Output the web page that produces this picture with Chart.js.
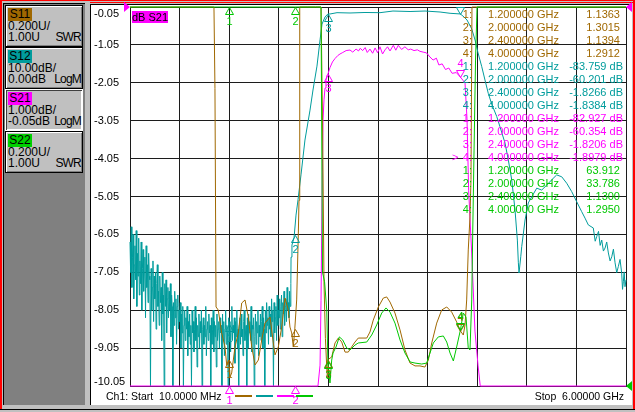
<!DOCTYPE html>
<html>
<head>
<meta charset="utf-8">
<script src="https://cdn.jsdelivr.net/npm/chart.js@4.4.0/dist/chart.umd.min.js"></script>
<style>
  html, body { margin: 0; padding: 0; }
  body {
    width: 635px; height: 412px; position: relative; overflow: hidden;
    background: #c0c0c0; font-family: "Liberation Sans", Arial, sans-serif;
  }
  .abs { position: absolute; }
  #left-panel { left: 3px; top: 3px; width: 82px; height: 402px; background: #808080;
    border-top: 1px solid #000; border-left: 1px solid #000; box-sizing: border-box; }
  #plot-panel { left: 90px; top: 4px; width: 542px; height: 401px; background: #fff;
    border-top: 1px solid #000; border-left: 1px solid #000; box-sizing: border-box; }
  .btn { position: absolute; left: 5px; width: 78px; height: 42px; box-sizing: border-box;
    background: #c0c0c0; border: 1px solid #000; box-shadow: inset 1px 1px #fff, inset -1px -1px #808080;
    font-size: 12px; color: #000; }
  .btn.sel { border: 1px solid #fff; box-shadow: inset 1px 1px #404040, inset -1px -1px #fff; }
  .tag { position: absolute; left: 2px; top: 2px; width: 24px; height: 13px; line-height: 13px; text-align: center; }
  .l2, .l3 { position: absolute; left: 2px; right: 1px; height: 11px; line-height: 11px; }
  .l2 { top: 15px; }
  .l3 { top: 26px; }
  .l3 span:last-child { position: absolute; right: 0; letter-spacing: -0.8px; }
  #overlay { left: 0; top: 0; width: 635px; height: 412px; pointer-events: none; font-size: 11px; }
  #overlay span { position: absolute; white-space: pre; line-height: 13px; }
  canvas { position: absolute; left: 0; top: 0; }
</style>
</head>
<body>
<div class="abs" style="left:0;top:0;width:635px;height:1px;background:#f00"></div>
<div class="abs" style="left:90px;top:2px;width:543px;height:1px;background:#f00"></div>
<div class="abs" style="left:0;top:0;width:2px;height:409px;background:#f00"></div>
<div class="abs" style="left:633px;top:0;width:2px;height:409px;background:#f00"></div>
<div class="abs" style="left:0;top:409px;width:635px;height:1px;background:#000"></div>

<div id="left-panel" class="abs"></div>
<div id="plot-panel" class="abs"></div>

<div class="btn" style="top:5px"><span class="tag" style="background:#a06800">S11</span>
  <div class="l2">0.200U/</div><div class="l3"><span>1.00U</span><span>SWR</span></div></div>
<div class="btn" style="top:47px"><span class="tag" style="background:#009c9c">S12</span>
  <div class="l2">10.00dB/</div><div class="l3"><span>0.00dB</span><span>LogM</span></div></div>
<div class="btn sel" style="top:89px"><span class="tag" style="background:#ff00ff">S21</span>
  <div class="l2">1.000dB/</div><div class="l3"><span>-0.05dB</span><span>LogM</span></div></div>
<div class="btn" style="top:131px"><span class="tag" style="background:#00d000">S22</span>
  <div class="l2">0.200U/</div><div class="l3"><span>1.00U</span><span>SWR</span></div></div>

<canvas id="vna" width="635" height="412"></canvas>
<div id="overlay" class="abs"></div>

<script>
// --- sweep and scales ---
const sweepStart = 0.01;   // GHz
const sweepStop = 6.0;     // GHz
const yTickLabels = ['-0.05', '-1.05', '-2.05', '-3.05', '-4.05', '-5.05',
                     '-6.05', '-7.05', '-8.05', '-9.05', '-10.05'];

// --- S11 (SWR) ---
const s11Freq = [0.01, 0.30, 0.60, 0.90, 1.010, 1.024, 1.036, 1.049, 1.076, 1.117, 1.157, 1.178, 1.200,
  1.218, 1.238, 1.278, 1.318, 1.359, 1.399, 1.439, 1.480, 1.520, 1.560, 1.601, 1.640, 1.701, 1.741,
  1.761, 1.801, 1.842, 1.882, 1.922, 1.942, 1.963, 1.982, 2.000, 2.023, 2.043, 2.051, 2.060, 2.150,
  2.250, 2.317, 2.335, 2.353, 2.370, 2.386, 2.393, 2.400, 2.446, 2.486, 2.526, 2.567, 2.607, 2.646,
  2.687, 2.727, 2.767, 2.869, 2.908, 2.948, 3.009, 3.069, 3.110, 3.150, 3.210, 3.271, 3.331, 3.392,
  3.452, 3.512, 3.572, 3.613, 3.654, 3.714, 3.774, 3.835, 3.895, 3.955, 4.000, 4.035, 4.056, 4.076,
  4.095, 4.116, 4.128, 4.140, 4.5, 5.0, 5.5, 6.0];
const s11Swr = [9.5, 14, 11, 6.5, 4.0, 3.3, 2.57, 1.417, 1.401, 1.280, 1.206, 1.111, 1.1363,
  1.047, 1.069, 1.206, 1.280, 1.438, 1.454, 1.364, 1.206, 1.111, 1.137, 1.243, 1.332, 1.364, 1.227,
  1.164, 1.206, 1.311, 1.464, 1.401, 1.311, 1.280, 1.206, 1.3015, 1.454, 1.807, 1.98, 3.4, 5.2,
  4.1, 3.3, 2.4, 1.544, 1.25, 1.10, 1.05, 1.1394, 1.153, 1.227, 1.253, 1.232, 1.179, 1.179,
  1.206, 1.232, 1.253, 1.253, 1.285, 1.348, 1.417, 1.464, 1.470, 1.443, 1.385, 1.296, 1.190, 1.121,
  1.106, 1.106, 1.100, 1.137, 1.227, 1.332, 1.401, 1.417, 1.390, 1.338, 1.2912, 1.269, 1.322, 1.454,
  1.718, 1.892, 2.09, 3.4, 6.5, 8.0, 7.0, 6.0];

// --- S12 (dB): noisy floor on the sweep grid, then the skirt and passband ---
const s12NoiseStart = 0.01;
const s12NoiseStep = 0.0075;
const s12Noise = [
  -62, -70, -58, -74, -66, -60, -77, -68, -63, -72, -59, -79, -65, -71, -61, -76,
  -67, -73, -62, -80, -69, -64, -75, -70, -66, -82, -63, -74, -68, -78, -65, -71,
  -72, -100, -69, -80, -74, -67, -83, -71, -77, -70, -85, -73, -68, -79, -75, -84,
  -71, -78, -74, -88, -70, -81, -76, -100, -73, -79, -72, -86, -77, -74, -82, -75,
  -80, -73, -87, -76, -79, -100, -78, -84, -75, -82, -77, -89, -79, -76, -85, -80,
  -83, -78, -90, -81, -86, -79, -100, -84, -80, -88, -82, -85, -79, -92, -83, -87,
  -81, -89, -84, -100, -80, -86, -83, -91, -85, -79, -88, -82, -95, -84, -87, -81,
  -90, -83, -86, -80, -100, -85, -82, -89, -84, -87, -79, -92, -85, -83, -88, -81,
  -86, -84, -100, -82, -89, -85, -80, -91, -83, -87, -84, -95, -81, -88, -85, -83,
  -90, -82, -86, -84, -100, -81, -88, -83, -92, -85, -80, -89, -84, -86, -100, -82,
  -87, -83, -91, -85, -79, -88, -84, -86, -82, -94, -83, -87, -80, -90, -85, -100,
  -84, -82, -89, -81, -87, -85, -92, -83, -80, -88, -86, -84, -100, -82, -90, -81,
  -86, -83, -88, -79, -91, -84, -85, -82, -100, -87, -81, -89, -83, -86, -80, -92,
  -84, -87, -81, -88, -83, -79, -90, -82, -85, -100, -80, -86, -78, -84, -82, -89,
  -79, -85, -81, -87, -77, -83, -80, -100, -78, -86, -82, -79, -88, -76, -84, -80,
  -82, -77, -85, -79, -76, -87, -78, -81, -75, -84, -79, -77, -83, -74, -80, -78,
  -82, -75, -79, -73];
const s12Freq = [1.955, 1.966, 1.991, 2.015, 2.039, 2.075, 2.123, 2.184, 2.220, 2.268, 2.305, 2.329, 2.365,
  2.400, 2.425, 2.510, 2.667, 2.848, 3.029, 3.186, 3.392, 3.573, 3.754, 3.875, 4.000, 4.044, 4.080, 4.137,
  4.177, 4.213, 4.258, 4.297, 4.337, 4.378, 4.439, 4.478, 4.539, 4.579, 4.620, 4.660, 4.688, 4.700, 4.708,
  4.729, 4.741, 4.781, 4.820, 4.861, 4.922, 4.982, 5.042, 5.103, 5.163, 5.224, 5.284, 5.344, 5.405, 5.465,
  5.505, 5.545, 5.605, 5.628, 5.646, 5.668, 5.688, 5.707, 5.727, 5.747, 5.767, 5.787, 5.808, 5.828, 5.848,
  5.868, 5.888, 5.907, 5.928, 5.948, 5.958, 5.968, 5.978, 5.988, 6.000];
const s12Db = [-66.0, -62.8, -60.9, -54.9, -50.9, -44.3, -35.1, -27.2, -21.9, -15.6, -8.7, -4.5, -2.64,
  -1.8266, -1.85, -1.50, -1.58, -1.45, -1.50, -1.06, -1.19, -1.06, -1.32, -1.66, -1.8384, -2.64, -3.43, -5.8,
  -8.7, -12.1, -15.75, -19.26, -22.8, -25.6, -28.9, -31.6, -35.9, -40.4, -45.6, -53.6, -61.5, -67.5, -70.2,
  -65.9, -63.2, -56.2, -51.7, -50.1, -47.8, -48.3, -47.0, -45.6, -44.3, -44.8, -46.5, -48.7, -51.4, -54.0,
  -55.7, -57.5, -58.3, -61.8, -60.6, -59.2, -62.9, -61.5, -64.4, -63.6, -62.0, -64.9, -67.0, -65.9, -63.9,
  -67.5, -70.1, -68.5, -66.6, -70.2, -74.5, -72.5, -69.9, -73.8, -72.0];

// --- S21 (dB) ---
const s21Freq = [0.01, 0.4, 0.8, 1.2, 1.6, 2.0, 2.2, 2.28, 2.305, 2.317, 2.329, 2.341, 2.353, 2.365, 2.377,
  2.389, 2.400, 2.425, 2.455, 2.486, 2.52, 2.546, 2.58, 2.62, 2.667, 2.70, 2.74, 2.77, 2.79, 2.82, 2.85,
  2.875, 2.908, 2.94, 2.97, 3.00, 3.029, 3.06, 3.09, 3.12, 3.15, 3.19, 3.22, 3.25, 3.29, 3.33, 3.37, 3.40,
  3.44, 3.48, 3.512, 3.55, 3.59, 3.633, 3.67, 3.71, 3.74, 3.78, 3.82, 3.86, 3.90, 3.95, 4.00, 4.03, 4.056,
  4.08, 4.10, 4.14, 4.176, 4.213, 4.24, 4.5, 5.0, 6.0];
const s21Db = [-62, -80, -88, -82.927, -72, -60.354, -38, -16, -9.5, -7.8, -5.1, -3.03, -2.5, -2.19, -1.98,
  -1.85, -1.8206, -1.65, -1.50, -1.41, -1.33, -1.29, -1.25, -1.20, -1.185, -1.24, -1.16, -1.21, -1.14, -1.20, -1.12,
  -1.25, -1.16, -1.27, -1.13, -1.26, -1.10, -1.29, -1.18, -1.10, -1.21, -1.06, -1.19, -1.06, -1.17, -1.10, -1.18, -1.16,
  -1.20, -1.18, -1.22, -1.24, -1.26, -1.37, -1.45, -1.40, -1.58, -1.55, -1.70, -1.66, -1.80, -1.78, -1.8979, -1.98, -2.06,
  -3.0, -4.9, -6.7, -8.6, -9.5, -12, -30, -42, -50];

// --- S22 (SWR) ---
const s22Freq = [0.01, 0.5, 1.2, 2.0, 2.25, 2.317, 2.323, 2.335, 2.360, 2.386, 2.400, 2.425, 2.446, 2.462,
  2.498, 2.538, 2.579, 2.627, 2.667, 2.727, 2.767, 2.869, 2.929, 2.989, 3.050, 3.102, 3.150, 3.210, 3.271,
  3.331, 3.392, 3.452, 3.533, 3.593, 3.633, 3.673, 3.733, 3.794, 3.835, 3.875, 3.915, 3.955, 4.000, 4.035,
  4.068, 4.095, 4.116, 4.137, 4.149, 4.165, 4.183, 4.201, 4.6, 5.2, 6.0];
const s22Swr = [30, 55, 63.912, 33.786, 9, 4.2, 3.3, 1.6, 1.55, 1.40, 1.13, 1.016, 1.137, 1.174,
  1.206, 1.259, 1.243, 1.201, 1.190, 1.216, 1.227, 1.232, 1.269, 1.322, 1.385, 1.412, 1.390, 1.332, 1.243,
  1.174, 1.127, 1.121, 1.116, 1.121, 1.174, 1.227, 1.259, 1.264, 1.232, 1.174, 1.132, 1.206, 1.295, 1.385,
  1.364, 1.201, 1.190, 1.454, 1.807, 2.245, 2.720, 3.5, 12, 20, 15];

// --- markers ---
const markerFreqs = [1.2, 2.0, 2.4, 4.0];
const s11Markers = [1.1363, 1.3015, 1.1394, 1.2912];
const s12Markers = [-83.759, -60.201, -1.8266, -1.8384];
const s21Markers = [-82.927, -60.354, -1.8206, -1.8979];
const s22Markers = [63.912, 33.786, 1.1300, 1.2950];
const activeMarker = 3;

const COLORS = { s11: '#a06800', s12: '#009c9c', s21: '#ff00ff', s22: '#00c800' };
const GRID = '#1c1c1c';
const FONT = '11px "Liberation Sans", Arial, sans-serif';

function toPoints(freqs, values, min, max) {
  return freqs.map((f, i) => ({ x: f, y: Math.max(min, Math.min(max, values[i])) }));
}

const s12AllFreq = s12Noise.map((_, i) => s12NoiseStart + i * s12NoiseStep).concat(s12Freq);
const s12AllDb = s12Noise.concat(s12Db);

const refMarks = [
  { axis: 'yS21', value: -0.05, color: COLORS.s21, sides: ['left', 'right'] },
  { axis: 'ySwr', value: 1.0, color: COLORS.s22, sides: ['right'] },
];

// y labels: left aligned, kept inside the grid height like the analyser does
const axisLabels = {
  id: 'axisLabels',
  afterDraw(chart) {
    const { ctx, chartArea } = chart;
    const y = chart.scales.yS21;
    ctx.save();
    ctx.font = FONT;
    ctx.fillStyle = '#000';
    ctx.textAlign = 'left';
    ctx.textBaseline = 'middle';
    yTickLabels.forEach(t => {
      const py = Math.min(chartArea.bottom - 4, Math.max(chartArea.top + 7, y.getPixelForValue(parseFloat(t))));
      ctx.fillText(t, 94, py);
    });
    ctx.restore();
  }
};

// marker triangles with their numbers
const markerGlyphs = {
  id: 'markerGlyphs',
  afterDatasetsDraw(chart) {
    const { ctx, chartArea } = chart;
    const xs = chart.scales.x;
    ctx.save();
    ctx.font = FONT;
    ctx.textAlign = 'center';
    ctx.textBaseline = 'middle';
    ctx.lineWidth = 1;
    chart.data.datasets.forEach(ds => {
      const ys = chart.scales[ds.yAxisID];
      ds.markerValues.forEach((v, i) => {
        const px = Math.round(xs.getPixelForValue(markerFreqs[i])) + 0.5;
        const py = Math.round(ys.getPixelForValue(Math.max(ys.min, Math.min(ys.max, v)))) + 0.5;
        const dir = i === activeMarker ? -1 : 1;
        ctx.strokeStyle = ds.borderColor;
        ctx.fillStyle = ds.borderColor;
        ctx.beginPath();
        ctx.moveTo(px, py);
        ctx.lineTo(px - 4, py + 7 * dir);
        ctx.lineTo(px + 4, py + 7 * dir);
        ctx.closePath();
        ctx.stroke();
        const ly = py + 14 * dir;
        if (ly > chartArea.top) ctx.fillText(String(i + 1), px, ly);
      });
    });
    ctx.restore();
  }
};

const refArrows = {
  id: 'refArrows',
  afterDraw(chart) {
    const { ctx, chartArea: a } = chart;
    ctx.save();
    refMarks.forEach(m => {
      const py = chart.scales[m.axis].getPixelForValue(m.value);
      ctx.fillStyle = m.color;
      m.sides.forEach(side => {
        const tip = side === 'left' ? a.left : a.right;
        const back = side === 'left' ? a.left - 6 : a.right + 6;
        ctx.beginPath();
        ctx.moveTo(tip, py);
        ctx.lineTo(back, py - 5);
        ctx.lineTo(back, py + 5);
        ctx.closePath();
        ctx.fill();
      });
    });
    ctx.restore();
  }
};

function trace(label, color, freqs, values, axis, min, max, markers, order) {
  return {
    label, data: toPoints(freqs, values, min, max), yAxisID: axis,
    borderColor: color, borderWidth: 1, pointRadius: 0, tension: 0,
    fill: false, clip: 4, order, markerValues: markers,
  };
}

const divisions = 10;
new Chart(document.getElementById('vna').getContext('2d'), {
  type: 'line',
  data: {
    datasets: [
      trace('S11', COLORS.s11, s11Freq, s11Swr, 'ySwr', 1, 3, s11Markers, 1),
      trace('S12', COLORS.s12, s12AllFreq, s12AllDb, 'yS12', -100, 0, s12Markers, 3),
      trace('S21', COLORS.s21, s21Freq, s21Db, 'yS21', -10.05, -0.05, s21Markers, 2),
      trace('S22', COLORS.s22, s22Freq, s22Swr, 'ySwr', 1, 3, s22Markers, 0),
    ]
  },
  options: {
    responsive: false,
    animation: false,
    layout: { padding: { left: 130, top: 7, right: 9, bottom: 26 } },
    plugins: { legend: { display: false }, tooltip: { enabled: false } },
    scales: {
      x: {
        type: 'linear', min: sweepStart, max: sweepStop,
        ticks: { display: false },
        grid: { color: GRID, drawTicks: false },
        border: { display: true, color: GRID },
        afterBuildTicks: s => {
          const step = (sweepStop - sweepStart) / divisions;
          s.ticks = Array.from({ length: divisions + 1 }, (_, k) => ({ value: sweepStart + k * step }));
        }
      },
      yS21: {
        position: 'left', min: -10.05, max: -0.05,
        ticks: { display: false },
        grid: { color: GRID, drawTicks: false },
        border: { display: true, color: GRID },
        afterBuildTicks: s => { s.ticks = yTickLabels.map(t => ({ value: parseFloat(t) })); }
      },
      yS12: { display: false, min: -100, max: 0 },
      ySwr: { display: false, min: 1, max: 3 },
    }
  },
  plugins: [axisLabels, markerGlyphs, refArrows]
});

// --- marker table, trace label and stimulus line ---
const overlay = document.getElementById('overlay');
function put(text, css) {
  const s = document.createElement('span');
  s.textContent = text;
  Object.assign(s.style, css);
  overlay.appendChild(s);
  return s;
}

const tableTraces = [
  { color: COLORS.s11, values: s11Markers, unit: '' },
  { color: COLORS.s12, values: s12Markers, unit: ' dB' },
  { color: COLORS.s21, values: s21Markers, unit: ' dB', active: true },
  { color: COLORS.s22, values: s22Markers, unit: '' },
];
tableTraces.forEach((t, ti) => {
  t.values.forEach((v, i) => {
    const top = (7.5 + 13 * (ti * 4 + i)) + 'px';
    put((i + 1) + ':', { top, right: '163px', color: t.color });
    put(markerFreqs[i].toFixed(6) + ' GHz', { top, right: '76px', color: t.color });
    put(v.toPrecision(5) + t.unit, { top, right: t.unit ? '12px' : '15px', color: t.color });
    if (t.active && i === activeMarker) put('>', { top, left: '452px', color: t.color });
  });
});

put('dB S21', { left: '132px', top: '11px', lineHeight: '12px', background: COLORS.s21, color: '#000' });

put('Ch1: Start  ' + (sweepStart * 1000).toFixed(4) + ' MHz', { left: '106px', top: '390px', color: '#000', fontSize: '10.5px' });
put('Stop  ' + sweepStop.toFixed(5) + ' GHz', { right: '11px', top: '390px', color: '#000', fontSize: '10.5px' });

// trace colour keys under the stimulus markers
[[235, COLORS.s11], [256, COLORS.s12], [277, COLORS.s21], [296, COLORS.s22]].forEach(([left, c]) => {
  const d = document.createElement('div');
  Object.assign(d.style, { position: 'absolute', left: left + 'px', top: '395px', width: '17px', height: '2px', background: c });
  overlay.appendChild(d);
});
</script>
</body>
</html>
